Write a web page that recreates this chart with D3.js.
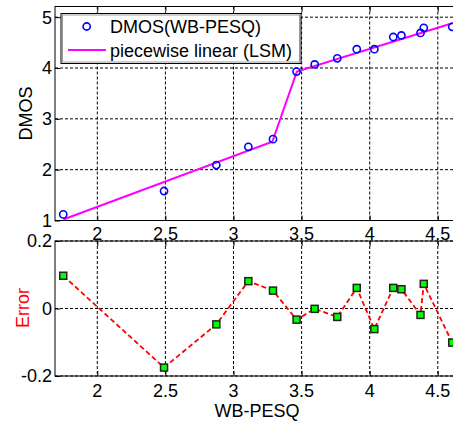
<!DOCTYPE html>
<html>
<head>
<meta charset="utf-8">
<script src="https://cdn.jsdelivr.net/npm/d3@7"></script>
<style>
html,body{margin:0;padding:0;background:#fff;overflow:hidden;}
svg{display:block;}
text{font-family:"Liberation Sans",Arial,sans-serif;}
</style>
</head>
<body>
<div id="chart"></div>
<script>
// ---- data ----
const wbpesq = [1.750, 2.490, 2.874, 3.109, 3.290, 3.463, 3.596, 3.762, 3.905, 4.034, 4.173, 4.233, 4.373, 4.397, 4.606];
const dmos   = [1.12, 1.58, 2.09, 2.45, 2.60, 3.93, 4.07, 4.19, 4.37, 4.37, 4.61, 4.64, 4.69, 4.79, 4.81];
const fitKnotX = [1.750, 3.285, 3.465, 4.606];
const fitKnotY = [1.02, 2.55, 3.93, 4.88];
const errors = [0.097, -0.175, -0.047, 0.081, 0.053, -0.033, -0.001, -0.025, 0.061, -0.061, 0.061, 0.057, -0.019, 0.073, -0.101];
const xTicks = [2, 2.5, 3, 3.5, 4, 4.5];
const xTickLabels = ["2", "2.5", "3", "3.5", "4", "4.5"];
const yTicksTop = [1, 2, 3, 4, 5];
const yTicksBottom = [-0.2, 0, 0.2];
const yTickLabelsBottom = ["-0.2", "0", "0.2"];
const legendLabels = ["DMOS(WB-PESQ)", "piecewise linear (LSM)"];

const W = 453, H = 421;
const svg = d3.select("#chart").append("svg").attr("width", W).attr("height", H);

const left = 55, right = 459;
const x = d3.scaleLinear().domain([1.6894, 4.6557]).range([left, right]);
const yT = d3.scaleLinear().domain([1, 5.21]).range([220.5, 6.5]);
const yB = d3.scaleLinear().domain([-0.2, 0.2]).range([376, 241]);

const FS = 18;

function drawAxes(y, yTicks, yLabels, top, bottom) {
  const g = svg.append("g");
  // grid
  g.selectAll(null).data(xTicks).enter().append("line")
    .attr("x1", d => x(d)).attr("x2", d => x(d))
    .attr("y1", top).attr("y2", bottom)
    .attr("stroke", "#000").attr("stroke-width", 1).attr("stroke-dasharray", "3,2");
  g.selectAll(null).data(yTicks).enter().append("line")
    .attr("x1", left).attr("x2", right)
    .attr("y1", d => y(d)).attr("y2", d => y(d))
    .attr("stroke", "#000").attr("stroke-width", 1).attr("stroke-dasharray", "3,2");
  // box
  g.append("rect").attr("x", left).attr("y", top).attr("width", right - left).attr("height", bottom - top)
    .attr("fill", "none").attr("stroke", "#000").attr("stroke-width", 1);
  // ticks via axis generators (inward)
  const axB = d3.axisBottom(x).tickValues(xTicks).tickSizeInner(-5).tickSizeOuter(0).tickFormat("");
  const axTop = d3.axisTop(x).tickValues(xTicks).tickSizeInner(-5).tickSizeOuter(0).tickFormat("");
  const axL = d3.axisLeft(y).tickValues(yTicks).tickSizeInner(-5).tickSizeOuter(0).tickFormat("");
  [g.append("g").attr("transform", `translate(0,${bottom})`).call(axB),
   g.append("g").attr("transform", `translate(0,${top})`).call(axTop),
   g.append("g").attr("transform", `translate(${left},0)`).call(axL)].forEach(a => {
     a.select(".domain").remove();
     a.selectAll("line").attr("stroke", "#000");
   });
  // y labels
  g.selectAll(null).data(yTicks).enter().append("text")
    .attr("x", 52).attr("y", d => y(d)).attr("dy", "0.36em")
    .attr("text-anchor", "end").attr("font-size", FS).attr("fill", "#000")
    .text((d, i) => yLabels[i]);
  return g;
}

// ---- top panel ----
drawAxes(yT, yTicksTop, yTicksTop.map(String), 6.5, 220.5);
// x tick labels for top
svg.append("g").selectAll("text").data(xTicks).enter().append("text")
  .attr("x", d => x(d)).attr("y", 239.5).attr("text-anchor", "middle")
  .attr("font-size", FS).text((d, i) => xTickLabels[i]);

// fit line
const fitPts = fitKnotX.map((v, i) => [v, fitKnotY[i]]);
svg.append("path").datum(fitPts)
  .attr("d", d3.line().x(d => x(d[0])).y(d => yT(d[1])))
  .attr("fill", "none").attr("stroke", "#ff00ff").attr("stroke-width", 2);
// circles
svg.append("g").selectAll("circle").data(wbpesq).enter().append("circle")
  .attr("cx", d => x(d)).attr("cy", (d, i) => yT(dmos[i])).attr("r", 3.6)
  .attr("fill", "none").attr("stroke", "#0000ff").attr("stroke-width", 1.6);

// y label
svg.append("text").attr("transform", "translate(31.5,113.5) rotate(-90)")
  .attr("text-anchor", "middle").attr("font-size", FS).text("DMOS");

// legend
const lg = svg.append("g");
lg.append("rect").attr("x", 61).attr("y", 13.5).attr("width", 240).attr("height", 50)
  .attr("fill", "#fff").attr("stroke", "#000").attr("stroke-width", 1);
lg.append("rect").attr("x", 62.5).attr("y", 15).attr("width", 237).attr("height", 47)
  .attr("fill", "none").attr("stroke", "#999").attr("stroke-width", 1);
lg.append("circle").attr("cx", 86.7).attr("cy", 26.5).attr("r", 3.6)
  .attr("fill", "none").attr("stroke", "#0000ff").attr("stroke-width", 1.6);
lg.append("line").attr("x1", 68).attr("x2", 106).attr("y1", 50).attr("y2", 50)
  .attr("stroke", "#ff00ff").attr("stroke-width", 2);
lg.selectAll("text").data(legendLabels).enter().append("text")
  .attr("x", 110).attr("y", (d, i) => i === 0 ? 33.3 : 56.7)
  .attr("font-size", FS).text(d => d);

// ---- bottom panel ----
drawAxes(yB, yTicksBottom, yTickLabelsBottom, 241, 376);
svg.append("g").selectAll("text").data(xTicks).enter().append("text")
  .attr("x", d => x(d)).attr("y", 397).attr("text-anchor", "middle")
  .attr("font-size", FS).text((d, i) => xTickLabels[i]);

svg.append("path").datum(wbpesq.map((v, i) => [v, errors[i]]))
  .attr("d", d3.line().x(d => x(d[0])).y(d => yB(d[1])))
  .attr("fill", "none").attr("stroke", "#ff0000").attr("stroke-width", 1.8)
  .attr("stroke-dasharray", "5,3");
svg.append("g").selectAll("rect").data(wbpesq).enter().append("rect")
  .attr("x", d => x(d) - 3.5).attr("y", (d, i) => yB(errors[i]) - 3.5)
  .attr("width", 7).attr("height", 7)
  .attr("fill", "#00ff00").attr("stroke", "#222").attr("stroke-width", 1.5);

svg.append("text").attr("transform", "translate(28.5,308) rotate(-90)")
  .attr("text-anchor", "middle").attr("font-size", FS).attr("fill", "#ff0000").text("Error");
svg.append("text").attr("x", right - (right - left) / 2).attr("y", 416.5)
  .attr("text-anchor", "middle").attr("font-size", FS).text("WB-PESQ");
</script>
</body>
</html>
